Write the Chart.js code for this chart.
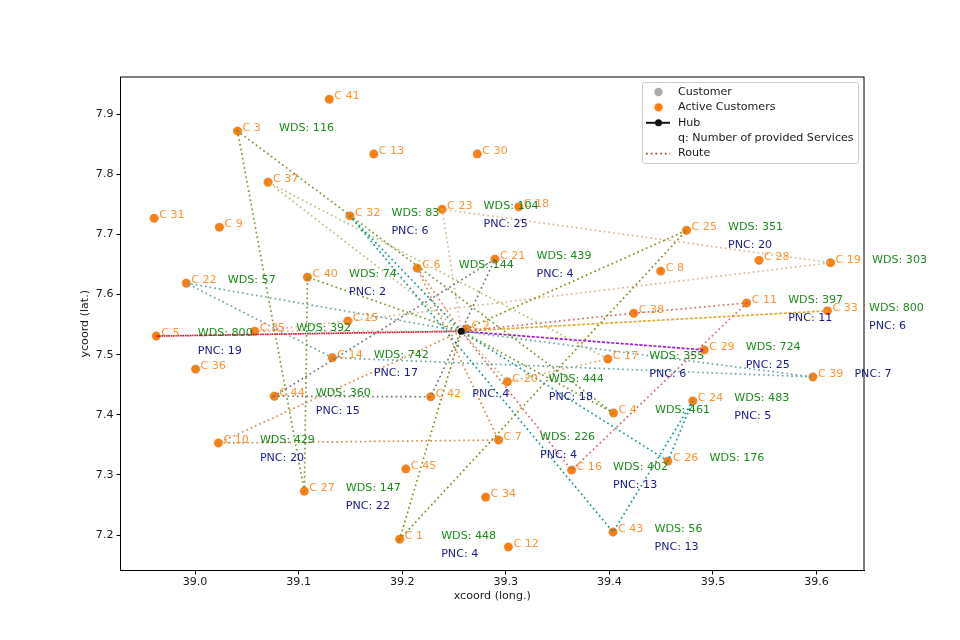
<!DOCTYPE html>
<html>
<head>
<meta charset="utf-8">
<title>Routes</title>
<script src="https://cdn.jsdelivr.net/npm/chart.js@4/dist/chart.umd.min.js"></script>
<style>
    body { margin: 0; background: #fff; }
    canvas { display: block; }
</style>
</head>
<body>
<canvas id="routeChart" width="960" height="640"></canvas>
<script>
// Customer coordinates, index 0 is C 1
const customerX = [39.1975, 39.262, 39.041, 39.404, 38.9625, 39.2145, 39.293, 39.4495, 39.0235, 39.0225,
    39.5325, 39.3025, 39.1725, 39.1325, 39.1475, 39.3635, 39.3985, 39.3125, 39.6135, 39.3015,
    39.2895, 38.9915, 39.2385, 39.4805, 39.4745, 39.4565, 39.1055, 39.5445, 39.4915, 39.2725,
    38.9605, 39.1495, 39.6105, 39.2805, 39.0575, 39.0005, 39.0705, 39.4235, 39.5965, 39.1085,
    39.1295, 39.2275, 39.4035, 39.0765, 39.2035];
const customerY = [7.193, 7.543, 7.872, 7.403, 7.531, 7.644, 7.358, 7.639, 7.712, 7.353,
    7.586, 7.18, 7.834, 7.495, 7.556, 7.308, 7.493, 7.746, 7.653, 7.455,
    7.659, 7.619, 7.742, 7.423, 7.707, 7.323, 7.273, 7.657, 7.508, 7.834,
    7.727, 7.731, 7.573, 7.263, 7.539, 7.476, 7.787, 7.569, 7.463, 7.629,
    7.925, 7.43, 7.205, 7.431, 7.31];

// Text beside each customer, null when the picture has none
const customerWds = [448, null, 116, 461, 800, 144, 226, null, null, 429,
    397, null, null, 742, null, 402, 355, null, 303, 444,
    439, 57, 104, 483, 351, 176, 147, null, 724, null,
    null, 83, 800, null, 392, null, null, null, null, 74,
    null, null, 56, 360, null];
const customerPnc = [4, null, null, null, 19, null, 4, null, null, 20,
    11, null, null, 17, null, 13, 6, null, null, 18,
    4, null, 25, 5, 20, null, 22, null, 25, null,
    null, 6, 6, null, null, null, null, null, 7, 2,
    null, 4, 13, 15, null];

const hubX = 39.257;
const hubY = 7.539;

// Routes as customer numbers, every route starts and ends at the hub
const routeStops = [
    [1, 25],
    [40, 27, 3, 4],
    [32, 43, 24, 26],
    [22, 14, 39],
    [21, 44, 42],
    [6, 7, 10],
    [23, 19, 15, 35],
    [37, 17, 20],
    [16, 11, 38],
    [33],
    [29],
    [5]
];
const routeColors = ['rgba(128,128,0,0.9)', 'rgba(107,142,35,0.9)', 'rgba(0,139,139,0.9)', 'rgba(95,158,160,0.9)',
    'rgba(105,105,105,0.9)', 'rgba(205,133,63,0.9)', 'rgba(210,180,140,0.9)', 'rgba(189,183,107,0.9)',
    'rgba(205,92,92,0.9)', 'rgba(218,165,32,0.9)', 'rgba(148,0,211,0.9)', 'rgba(200,0,32,0.9)'];

const xTicks = [39.0, 39.1, 39.2, 39.3, 39.4, 39.5, 39.6];
const yTicks = [7.2, 7.3, 7.4, 7.5, 7.6, 7.7, 7.8, 7.9];

const legendLabels = ['Customer', 'Active Customers', 'Hub', 'q: Number of provided Services', 'Route'];

const FONT = '11.1px "DejaVu Sans"';
const TEXT_COLOR = '#1a1a1a';

function buildRoute(stops) {
    const points = [{ x: hubX, y: hubY }];
    stops.forEach(n => points.push({ x: customerX[n - 1], y: customerY[n - 1] }));
    points.push({ x: hubX, y: hubY });
    return points;
}

const customerPoints = customerX.map((x, i) => ({ x: x, y: customerY[i] }));

const routeDatasets = routeStops.map((stops, i) => ({
    label: 'Route ' + (i + 1),
    data: buildRoute(stops),
    showLine: true,
    borderColor: routeColors[i],
    borderWidth: 1.7,
    borderDash: [1.7, 3],
    pointRadius: 0,
    order: 1
}));

// Customer names plus the WDS and PNC rows
const customerText = {
    id: 'customerText',
    afterDatasetsDraw(chart) {
        const ctx = chart.ctx;
        const xs = chart.scales.x;
        const ys = chart.scales.y;
        ctx.save();
        ctx.font = FONT;
        ctx.textAlign = 'left';
        ctx.textBaseline = 'middle';
        customerX.forEach((x, i) => {
            const px = xs.getPixelForValue(x);
            const py = ys.getPixelForValue(customerY[i]);
            ctx.fillStyle = 'rgba(255,127,14,0.85)';
            ctx.fillText('C ' + (i + 1), px + 5, py - 3);
            let row = py - 3;
            if (customerWds[i] !== null) {
                ctx.fillStyle = 'rgba(0,128,0,0.9)';
                ctx.fillText('WDS: ' + customerWds[i], px + 41.5, row);
                row += 18;
            }
            if (customerPnc[i] !== null) {
                ctx.fillStyle = 'rgba(0,0,128,0.9)';
                ctx.fillText('PNC: ' + customerPnc[i], px + 41.5, row);
            }
        });
        ctx.restore();
    }
};

// Frame round the plot and the legend box in its upper right corner
const frameAndLegend = {
    id: 'frameAndLegend',
    afterDraw(chart) {
        const ctx = chart.ctx;
        const area = chart.chartArea;
        ctx.save();
        ctx.strokeStyle = '#000';
        ctx.lineWidth = 1;
        ctx.strokeRect(area.left, area.top, area.right - area.left, area.bottom - area.top);

        const boxX = 642.5, boxY = 82.5, boxW = 216, boxH = 81;
        ctx.beginPath();
        ctx.roundRect(boxX, boxY, boxW, boxH, 2);
        ctx.fillStyle = 'rgba(255,255,255,0.8)';
        ctx.fill();
        ctx.strokeStyle = '#ccc';
        ctx.stroke();

        const rowY = i => 92 + i * 15.4;
        const handleX = 658.5;

        ctx.beginPath();
        ctx.arc(handleX, rowY(0), 4.2, 0, Math.PI * 2);
        ctx.fillStyle = 'rgba(128,128,128,0.65)';
        ctx.fill();

        ctx.beginPath();
        ctx.arc(handleX, rowY(1), 4.2, 0, Math.PI * 2);
        ctx.fillStyle = '#ff7f0e';
        ctx.fill();

        ctx.beginPath();
        ctx.moveTo(646, rowY(2));
        ctx.lineTo(670, rowY(2));
        ctx.strokeStyle = '#111';
        ctx.lineWidth = 2;
        ctx.stroke();
        ctx.beginPath();
        ctx.arc(handleX, rowY(2), 3.5, 0, Math.PI * 2);
        ctx.fillStyle = '#111';
        ctx.fill();

        ctx.beginPath();
        ctx.moveTo(646, rowY(4));
        ctx.lineTo(670, rowY(4));
        ctx.strokeStyle = '#a5432d';
        ctx.lineWidth = 1.7;
        ctx.setLineDash([1.7, 3]);
        ctx.stroke();
        ctx.setLineDash([]);

        ctx.font = FONT;
        ctx.textAlign = 'left';
        ctx.textBaseline = 'middle';
        ctx.fillStyle = TEXT_COLOR;
        legendLabels.forEach((label, i) => ctx.fillText(label, 678, rowY(i)));
        ctx.restore();
    }
};

const chart = new Chart(document.getElementById('routeChart').getContext('2d'), {
    type: 'scatter',
    data: {
        datasets: routeDatasets.concat([
            {
                label: 'Hub',
                data: [{ x: hubX, y: hubY }],
                backgroundColor: '#111',
                borderWidth: 0,
                pointRadius: 3.5,
                order: 0
            },
            {
                label: 'Active Customers',
                data: customerPoints,
                backgroundColor: '#ff7f0e',
                borderWidth: 0,
                pointRadius: 4.2,
                order: 2
            },
            {
                label: 'Customer',
                data: customerPoints,
                backgroundColor: 'rgba(128,128,128,0.5)',
                borderWidth: 0,
                pointRadius: 4.6,
                order: 3
            }
        ])
    },
    options: {
        responsive: false,
        animation: false,
        events: [],
        layout: { padding: { left: 78, top: 77, right: 96, bottom: 37.5 } },
        plugins: { legend: { display: false }, tooltip: { enabled: false } },
        scales: {
            x: {
                type: 'linear',
                min: 38.928,
                max: 39.6458,
                grid: { drawOnChartArea: false, tickLength: 4, color: '#000' },
                border: { color: '#000' },
                title: { display: true, text: 'xcoord (long.)', color: TEXT_COLOR, font: { family: 'DejaVu Sans', size: 11.1 }, padding: 0 },
                ticks: { color: TEXT_COLOR, font: { family: 'DejaVu Sans', size: 11.1 }, maxRotation: 0, padding: 1, callback: v => v.toFixed(1) },
                afterBuildTicks: axis => { axis.ticks = xTicks.map(v => ({ value: v })); },
                afterFit: axis => { axis.height = 32; axis.paddingLeft = 0; axis.paddingRight = 0; }
            },
            y: {
                type: 'linear',
                min: 7.141,
                max: 7.962,
                grid: { drawOnChartArea: false, tickLength: 4, color: '#000' },
                border: { color: '#000' },
                title: { display: true, text: 'ycoord (lat.)', color: TEXT_COLOR, font: { family: 'DejaVu Sans', size: 11.1 }, padding: 0 },
                ticks: { color: TEXT_COLOR, font: { family: 'DejaVu Sans', size: 11.1 }, padding: 3, callback: v => v.toFixed(1) },
                afterBuildTicks: axis => { axis.ticks = yTicks.map(v => ({ value: v })); },
                afterFit: axis => { axis.width = 42.5; axis.paddingTop = 0; axis.paddingBottom = 0; }
            }
        }
    },
    plugins: [customerText, frameAndLegend]
});
</script>
</body>
</html>
